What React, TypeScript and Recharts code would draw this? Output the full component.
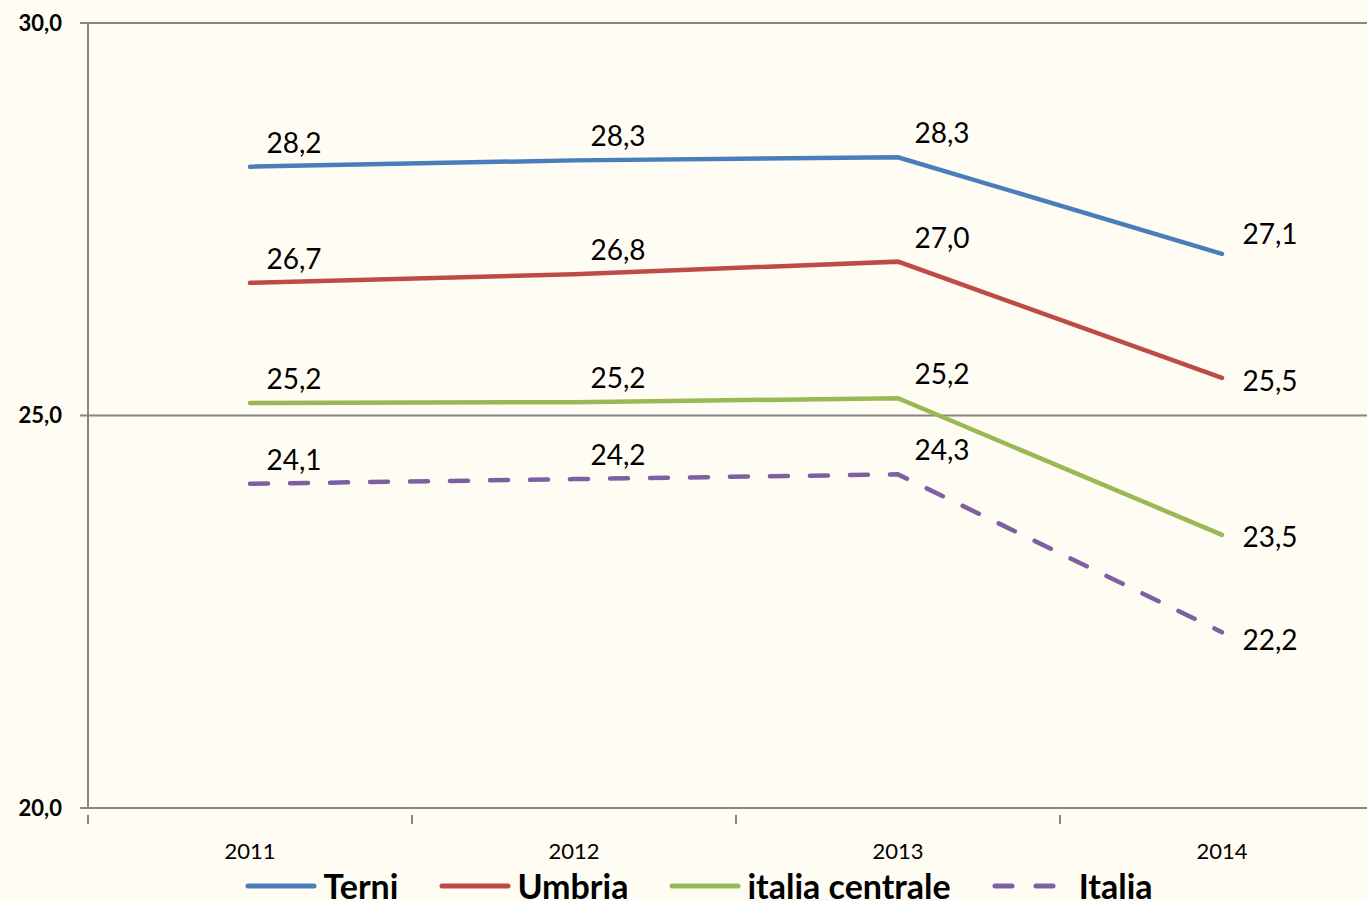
import React from "react";
import {
  LineChart,
  Line,
  XAxis,
  YAxis,
  CartesianGrid,
  Legend,
  LabelList,
} from "recharts";

const years = ["2011", "2012", "2013", "2014"];
const terni = [28.17, 28.25, 28.29, 27.06];
const umbria = [26.69, 26.8, 26.96, 25.48];
const italiaCentrale = [25.16, 25.17, 25.22, 23.48];
const italia = [24.13, 24.19, 24.25, 22.24];
const yTicks = [20, 25, 30];

const data = years.map((year, i) => ({
  year,
  terni: terni[i],
  umbria: umbria[i],
  italiaCentrale: italiaCentrale[i],
  italia: italia[i],
}));

const series = [
  { key: "terni", name: "Terni", color: "#4A7EBB", dash: undefined, lastDy: -21 },
  { key: "umbria", name: "Umbria", color: "#BE4B48", dash: undefined, lastDy: 2 },
  { key: "italiaCentrale", name: "italia centrale", color: "#98B954", dash: undefined, lastDy: 1 },
  { key: "italia", name: "Italia", color: "#7D60A0", dash: "18 22", lastDy: 7 },
];

const FONT = "Lato, 'Open Sans', sans-serif";
const AXIS = "#868686";

const fmt = (v: number) => v.toFixed(1).replace(".", ",");

// data label, nudged up-right like the original (last point sits to the right)
function makeLabel(lastDy: number) {
  // eslint-disable-next-line @typescript-eslint/no-explicit-any
  return function PointLabel(props: any) {
    const { x, y, value, index } = props;
    const last = index === years.length - 1;
    const dx = last ? 48 : 44;
    const dy = last ? lastDy : -25;
    return (
      <text
        x={x + dx}
        y={y + dy}
        textAnchor="middle"
        dominantBaseline="central"
        fontFamily={FONT}
        fontSize={28}
        fill="#000"
      >
        {fmt(value)}
      </text>
    );
  };
}

// eslint-disable-next-line @typescript-eslint/no-explicit-any
function YearTick(props: any) {
  const { x, y, payload } = props;
  const half = payload?.offset ?? 162;
  return (
    <g>
      <line x1={x - half} y1={y - 1} x2={x - half} y2={y + 8} stroke={AXIS} strokeWidth={2} />
      <text
        x={x}
        y={y + 34}
        textAnchor="middle"
        dominantBaseline="central"
        fontFamily={FONT}
        fontSize={22}
        fill="#000"
      >
        {payload.value}
      </text>
    </g>
  );
}

function LegendContent() {
  return (
    <div
      style={{
        display: "flex",
        justifyContent: "center",
        alignItems: "center",
        gap: 41,
        paddingLeft: 14,
        fontFamily: FONT,
        fontWeight: 700,
        fontSize: 34,
        lineHeight: "36px",
        color: "#000",
        whiteSpace: "nowrap",
      }}
    >
      {series.map((s) => (
        <div key={s.key} style={{ display: "flex", alignItems: "center", gap: 6 }}>
          <svg width={72} height={10}>
            <line
              x1={3}
              y1={5}
              x2={s.dash ? 66 : 69}
              y2={5}
              stroke={s.color}
              strokeWidth={5}
              strokeLinecap="round"
              strokeDasharray={s.dash ? "17 24" : undefined}
            />
          </svg>
          <span style={{ marginLeft: s.dash ? 9 : 0 }}>{s.name}</span>
        </div>
      ))}
    </div>
  );
}

export default function App() {
  return (
    <div
      style={{
        position: "absolute",
        left: 0,
        top: 0,
        width: 1367,
        height: 901,
        overflow: "hidden",
        background: "#FFFCF4",
      }}
    >
      <LineChart
        width={1384}
        height={901}
        data={data}
        margin={{ top: 23, right: 0, bottom: 0, left: 0 }}
      >
        <CartesianGrid vertical={false} stroke={AXIS} strokeWidth={2} />
        <XAxis
          dataKey="year"
          scale="band"
          axisLine={{ stroke: AXIS, strokeWidth: 2 }}
          tickLine={false}
          tick={<YearTick />}
          height={60}
          interval={0}
        />
        <YAxis
          domain={[20, 30]}
          ticks={yTicks}
          width={88}
          axisLine={{ stroke: AXIS, strokeWidth: 2 }}
          tickLine={{ stroke: AXIS, strokeWidth: 2 }}
          tickSize={8}
          tickMargin={18}
          tickFormatter={fmt}
          tick={{ fontFamily: FONT, fontWeight: 700, fontSize: 22, fill: "#000" }}
        />
        <Legend verticalAlign="bottom" height={33} content={<LegendContent />} />
        {series.map((s) => (
          <Line
            key={s.key}
            dataKey={s.key}
            name={s.name}
            type="linear"
            stroke={s.color}
            strokeWidth={4.5}
            strokeDasharray={s.dash}
            strokeLinecap="round"
            dot={false}
            activeDot={false}
            isAnimationActive={false}
          >
            <LabelList dataKey={s.key} content={makeLabel(s.lastDy)} />
          </Line>
        ))}
      </LineChart>
    </div>
  );
}
